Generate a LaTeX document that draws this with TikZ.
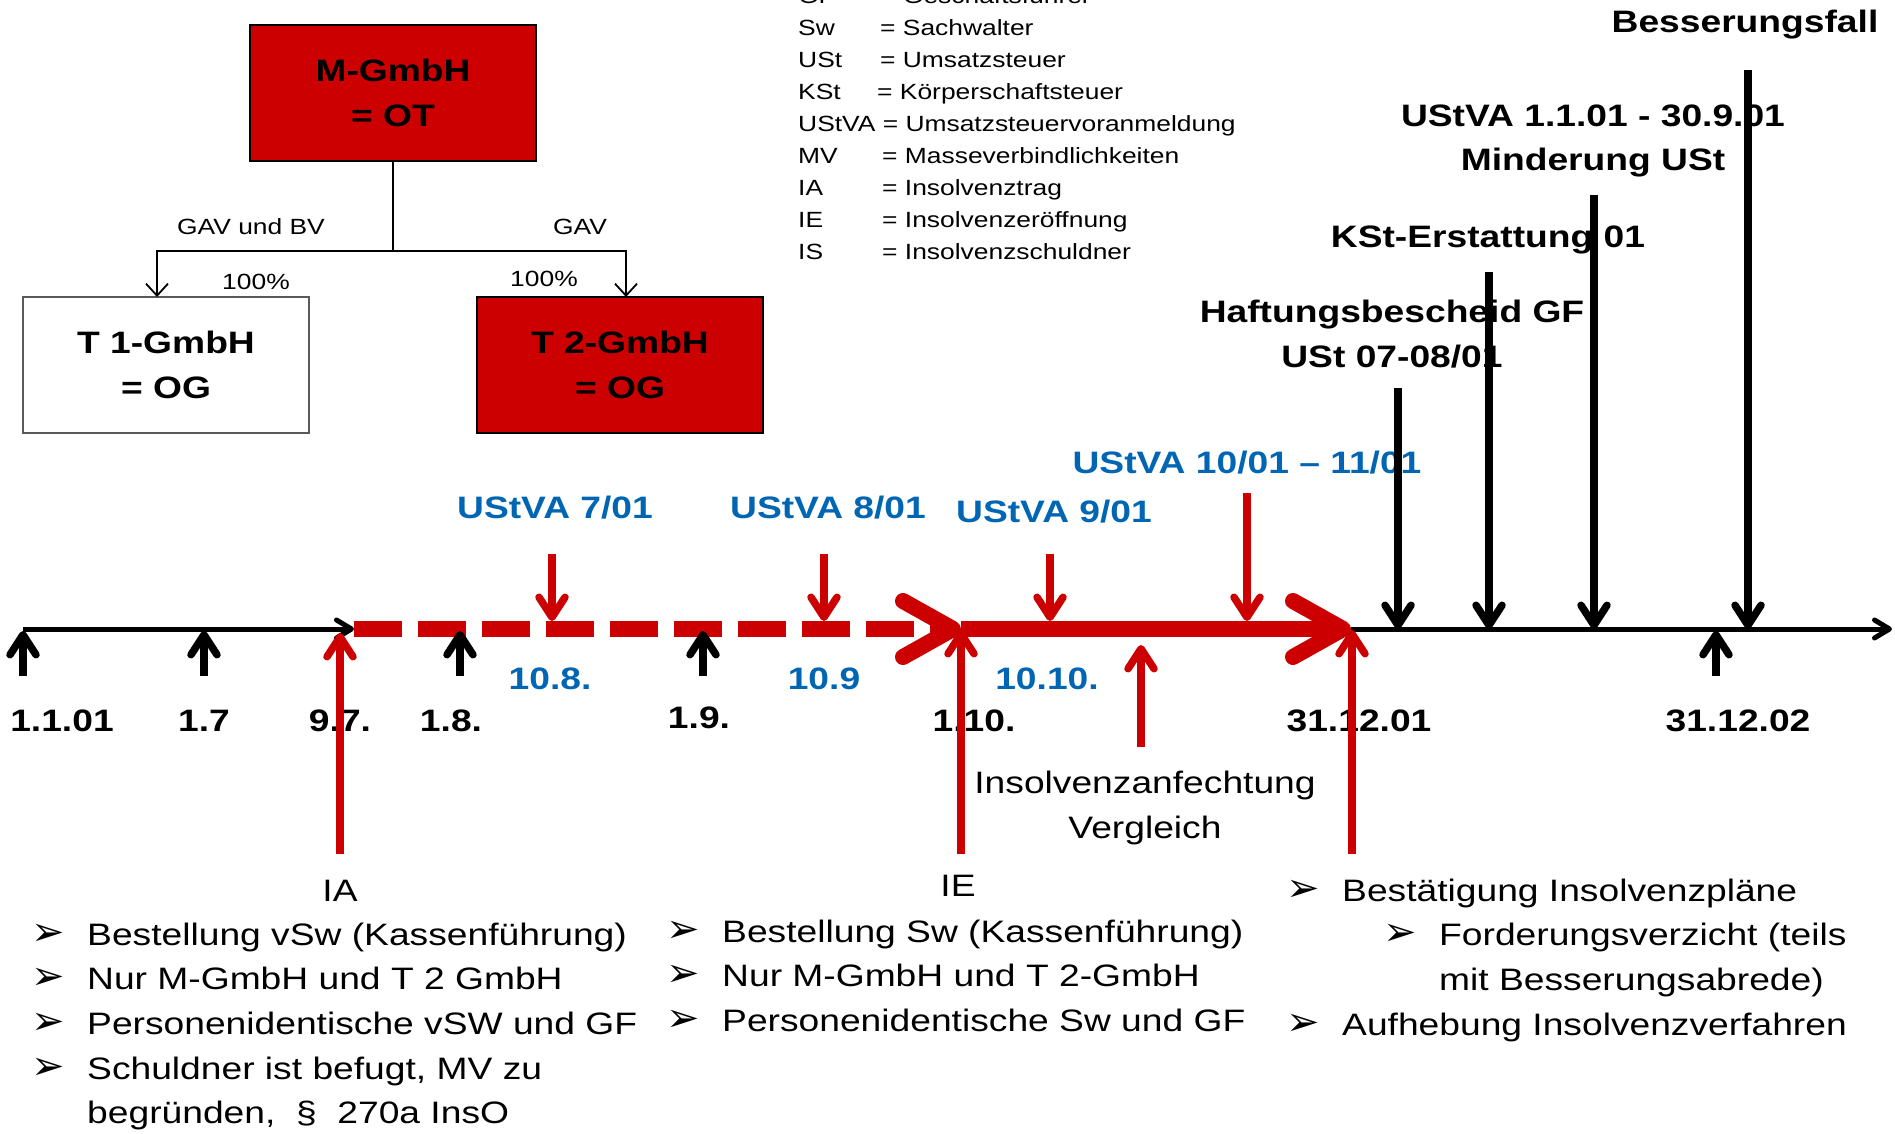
\documentclass[tikz,border=0pt]{standalone}
\usepackage{fontspec}
\setmainfont{Liberation Sans}[FakeStretch=1.2]
\newfontfamily\bulletfont{DejaVu Sans}
\usetikzlibrary{arrows.meta}
\definecolor{boxred}{RGB}{204,0,0}
\definecolor{ustblue}{RGB}{0,102,179}
\newcommand{\bul}{\makebox[56pt][l]{\bulletfont\fontsize{40}{40}\selectfont ➢}}
\begin{document}
\begin{tikzpicture}[x=1pt, y=-1pt,
    orgbox/.style={draw, line width=1.2pt, minimum width=286pt, minimum height=136pt, inner sep=0pt, align=center, font=\fontsize{31}{44.7}\selectfont\bfseries},
    orgline/.style={line width=1.8pt, -{Straight Barb[length=12pt,width=22pt]}},
    smalltext/.style={font=\fontsize{22}{31.9}\selectfont, inner sep=0pt},
    boldtext/.style={font=\fontsize{31}{44.7}\selectfont\bfseries, inner sep=0pt, align=center},
    lighttext/.style={font=\fontsize{31}{44.7}\selectfont, inner sep=0pt},
    thinarrow/.style={line width=7.5pt, -{Straight Barb[length=20pt,width=26pt,round]}},
    blackaxis/.style={line width=5pt, -{Straight Barb[length=15pt,width=18pt,round]}},
    redaxis/.style={line width=16pt, boxred, -{Straight Barb[length=50pt,width=56pt,round]}},
  ]
  % Canvas
  \fill[white] (0,0) rectangle (1895,1134);
  \useasboundingbox (0,0) rectangle (1895,1134);

  % Group structure
  \node[orgbox, fill=boxred] (mgmbh) at (393,93) {M-GmbH\\= OT};
  \node[orgbox, draw=gray!70!black] (tone) at (166,365) {T 1-GmbH\\= OG};
  \node[orgbox, fill=boxred] (ttwo) at (620,365) {T 2-GmbH\\= OG};
  \coordinate (split) at (393,251);
  \coordinate (tonetop) at (157,297);
  \coordinate (ttwotop) at (626,297);
  \draw[line width=1.8pt] (mgmbh.south) -- (split);
  \draw[orgline] (split) -| (tonetop);
  \draw[orgline] (split) -| (ttwotop);
  \node[smalltext] (gavbv) at (251,227) {GAV und BV};
  \node[smalltext] (gav) at (580,227) {GAV};
  \node[smalltext] (pctone) at (256,282) {100\%};
  \node[smalltext] (pcttwo) at (544,279) {100\%};

  % Abbreviations
  \node[smalltext, anchor=base west] (legend) at (798,4) {\begin{tabular}[t]{@{}l@{}}
    \makebox[82pt][l]{GF}= Geschäftsführer\\
    \makebox[82pt][l]{Sw}= Sachwalter\\
    \makebox[82pt][l]{USt}= Umsatzsteuer\\
    \makebox[79pt][l]{KSt}= Körperschaftsteuer\\
    UStVA = Umsatzsteuervoranmeldung\\
    \makebox[84pt][l]{MV}= Masseverbindlichkeiten\\
    \makebox[84pt][l]{IA}= Insolvenztrag\\
    \makebox[84pt][l]{IE}= Insolvenzeröffnung\\
    \makebox[84pt][l]{IS}= Insolvenzschuldner
  \end{tabular}};

  % Time line
  \coordinate (tstart) at (23,629);
  \coordinate (tia) at (354,629);
  \coordinate (tie) at (961,629);
  \coordinate (tend) at (1351,629);
  \coordinate (tfar) at (1892,629);
  \draw[redaxis, dash pattern=on 48pt off 16pt] (tia) -- (tie);
  \draw[redaxis] (tie) -- (tend);
  \draw[blackaxis] (tstart) -- (tia);
  \draw[blackaxis] (tend) -- (tfar);

  % Dates
  \node[boldtext] (d1) at (62,721) {1.1.01};
  \node[boldtext] (d2) at (204,721) {1.7};
  \node[boldtext] (d3) at (340,721) {9.7.};
  \node[boldtext] (d4) at (451,721) {1.8.};
  \node[boldtext] (d5) at (699,718) {1.9.};
  \node[boldtext] (d6) at (974,721) {1.10.};
  \node[boldtext] (d7) at (1359,721) {31.12.01};
  \node[boldtext] (d8) at (1738,721) {31.12.02};
  \node[boldtext, ustblue] (b1) at (550,679) {10.8.};
  \node[boldtext, ustblue] (b2) at (824,679) {10.9};
  \node[boldtext, ustblue] (b3) at (1047,679) {10.10.};

  % Month ticks
  \foreach \x [count=\i] in {23,204,460,703,1716} {
    \coordinate (tick\i) at (\x,631);
    \coordinate (tickfoot\i) at (\x,676);
    \draw[thinarrow] (tickfoot\i) -- (tick\i);
  }

  % Advance returns
  \node[boldtext, ustblue] (v7) at (555,508) {UStVA 7/01};
  \node[boldtext, ustblue] (v8) at (828,508) {UStVA 8/01};
  \node[boldtext, ustblue] (v9) at (1054,512) {UStVA 9/01};
  \node[boldtext, ustblue] (v10) at (1247,463) {UStVA 10/01 -- 11/01};
  \foreach \x/\y [count=\i] in {552/554,824/554,1050/554,1247/493} {
    \coordinate (vtop\i) at (\x,\y);
    \coordinate (vtip\i) at (\x,621);
    \draw[thinarrow, boxred] (vtop\i) -- (vtip\i);
  }

  % Insolvency events
  \node[lighttext] (ia) at (340,891) {IA};
  \node[lighttext] (ie) at (958,886) {IE};
  \node[lighttext, align=center] (anf) at (1145,808) {Insolvenzanfechtung\\Vergleich};
  \coordinate (iafoot) at (340,854);
  \coordinate (iatip) at (340,633);
  \coordinate (iefoot) at (961,854);
  \coordinate (ietip) at (961,630);
  \coordinate (endfoot) at (1352,854);
  \coordinate (endtip) at (1352,630);
  \coordinate (anffoot) at (1141,747);
  \coordinate (anftip) at (1141,645);
  \draw[thinarrow, boxred] (iafoot) -- (iatip);
  \draw[thinarrow, boxred] (iefoot) -- (ietip);
  \draw[thinarrow, boxred] (endfoot) -- (endtip);
  \draw[thinarrow, boxred] (anffoot) -- (anftip);

  % Later events
  \node[boldtext] (haft) at (1392,334) {Haftungsbescheid GF\\USt 07-08/01};
  \node[boldtext] (kst) at (1488,240) {KSt-Erstattung 01};
  \node[boldtext] (mind) at (1593,141) {UStVA 1.1.01 - 30.9.01\\Minderung USt};
  \node[boldtext] (bess) at (1745,25) {Besserungsfall};
  \foreach \x/\y [count=\i] in {1398/388,1489/272,1594/195,1748/70} {
    \coordinate (ltop\i) at (\x,\y);
    \coordinate (ltip\i) at (\x,629);
    \draw[thinarrow] (ltop\i) -- (ltip\i);
  }

  % Notes
  \node[lighttext, anchor=base west] (listia) at (31,945) {\begin{tabular}[t]{@{}l@{}l@{}}
    \bul & Bestellung vSw (Kassenführung)\\
    \bul & Nur M-GmbH und T 2 GmbH\\
    \bul & Personenidentische vSW und GF\\
    \bul & Schuldner ist befugt, MV zu\\
         & begründen,~ §~ 270a InsO
  \end{tabular}};
  \node[lighttext, anchor=base west] (listie) at (666,942) {\begin{tabular}[t]{@{}l@{}l@{}}
    \bul & Bestellung Sw (Kassenführung)\\
    \bul & Nur M-GmbH und T 2-GmbH\\
    \bul & Personenidentische Sw und GF
  \end{tabular}};
  \node[lighttext, anchor=base west] (listend) at (1286,901) {\begin{tabular}[t]{@{}l@{}l@{}l@{}}
    \bul & \multicolumn{2}{@{}l@{}}{Bestätigung Insolvenzpläne}\\
         & \hspace{41pt}\bul & Forderungsverzicht (teils\\
         & & mit Besserungsabrede)\\
    \bul & \multicolumn{2}{@{}l@{}}{Aufhebung Insolvenzverfahren}
  \end{tabular}};
\end{tikzpicture}
\end{document}
